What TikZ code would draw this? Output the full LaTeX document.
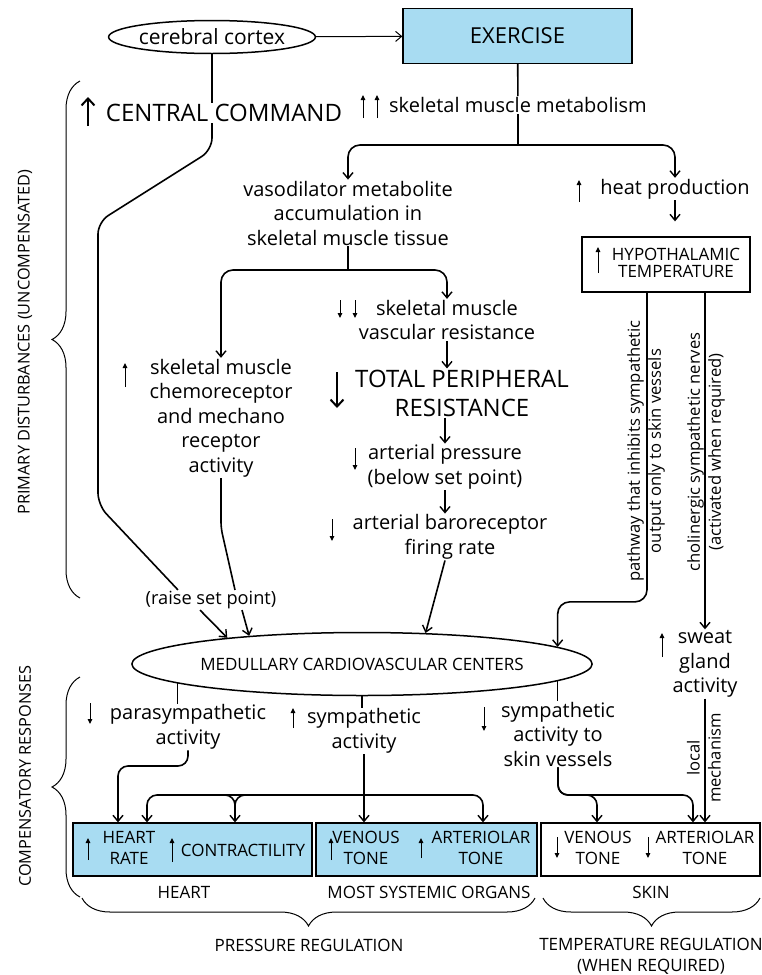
\documentclass[tikz,border=0pt]{standalone}
\usepackage{fontspec}
\setmainfont{Open Sans}
\usetikzlibrary{arrows.meta, positioning, shapes.geometric, decorations.pathreplacing, calc}
\definecolor{skyfill}{HTML}{A8DCF2}

\begin{document}
\begin{tikzpicture}[x=1pt, y=-1pt,
  txt/.style={align=center, font=\fontsize{20}{24.5}\selectfont, inner sep=1pt},
  bigtxt/.style={align=center, font=\fontsize{24}{29}\selectfont, inner sep=1pt},
  caps/.style={align=center, font=\fontsize{17}{21}\selectfont, inner sep=1pt},
  smalltxt/.style={align=center, font=\fontsize{16.6}{21}\selectfont, inner sep=1pt},
  side/.style={caps, font=\fontsize{16.3}{20}\selectfont, rotate=90},
  conn/.style={line width=1.6pt},
  arr/.style={conn, -{Straight Barb[length=6pt, width=10pt, line width=1.4pt]}},
  thinarr/.style={line width=1pt, -{Straight Barb[length=6pt, width=10pt]}},
  glyph/.style={line width=1pt, -{Triangle[length=5pt, width=4.5pt]}},
  bigglyph/.style={line width=2pt, -{Straight Barb[length=7pt, width=13pt, line width=2pt]}},
  cbox/.style={draw, line width=1.3pt, inner sep=0pt},
  bluebox/.style={cbox, fill=skyfill},
  oval/.style={draw, ellipse, line width=1.5pt, inner sep=0pt},
  brc/.style={decorate, line width=1pt, decoration={brace, amplitude=28pt}},
]
\useasboundingbox (0,0) rectangle (761,975);

% top row
\node[oval, minimum width=172, minimum height=33, font=\fontsize{21}{24}\selectfont] (cortex) at (212,37) {cerebral cortex};
\node[bluebox, minimum width=229, minimum height=55, font=\fontsize{22}{26}\selectfont] (exer) at (517.5,36) {EXERCISE};
\draw[thinarr] (cortex) -- (exer);

% primary disturbances
\node[bigtxt] (cmd) at (224,113) {CENTRAL COMMAND};
\node[txt] (metab) at (518,105) {skeletal muscle metabolism};
\node[txt] (vaso) at (348,213) {vasodilator metabolite\\accumulation in\\skeletal muscle tissue};
\node[txt] (heat) at (675,189) {heat production};
\node[cbox, minimum width=168, minimum height=55, caps] (hypo) at (666,264.5)
  {\hspace{20pt}\begin{tabular}{@{}c@{}}HYPOTHALAMIC\\[-4pt]TEMPERATURE\end{tabular}};
\node[txt] (chemo) at (221,418) {skeletal muscle\\chemoreceptor\\and mechano\\receptor\\activity};
\node[txt] (smvr) at (447,320) {skeletal muscle\\vascular resistance};
\node[bigtxt] (tpr) at (462,393) {TOTAL PERIPHERAL\\RESISTANCE};
\node[txt] (ap) at (445,467) {arterial pressure\\(below set point)};
\node[txt] (baro) at (450,537) {arterial baroreceptor\\firing rate};
\node[smalltxt, font=\fontsize{18.2}{21}\selectfont] (raise) at (211,600) {(raise set point)};
\node[smalltxt, rotate=90] (inhib) at (646,451) {pathway that inhibits sympathetic\\output only to skin vessels};
\node[smalltxt, rotate=90] (chol) at (706,452) {cholinergic sympathetic nerves\\(activated when required)};
\node[txt] (sweat) at (705,664) {sweat\\gland\\activity};

% medulla and its outputs
\node[oval, minimum width=458, minimum height=63, caps] (med) at (362,664) {MEDULLARY CARDIOVASCULAR CENTERS};
\node[txt] (para) at (188,727) {parasympathetic\\activity};
\node[txt] (sym) at (364,731) {sympathetic\\activity};
\node[txt] (skinv) at (558,734) {sympathetic\\activity to\\skin vessels};
\node[smalltxt, rotate=90] (local) at (704,758) {local\\mechanism};

% effector boxes
\node[bluebox, minimum width=239, minimum height=53] (heartbox) at (192.5,849.5) {};
\node[bluebox, minimum width=221, minimum height=53] (orgbox) at (426.5,849.5) {};
\node[cbox, minimum width=219, minimum height=53] (skinbox) at (650.5,849.5) {};
\node[caps] (hrate) at (129,848) {HEART\\RATE};
\node[caps] (contr) at (243,850) {CONTRACTILITY};
\node[caps] (vtone) at (366,848) {VENOUS\\TONE};
\node[caps] (atone) at (481,848) {ARTERIOLAR\\TONE};
\node[caps] (svtone) at (598,848) {VENOUS\\TONE};
\node[caps] (satone) at (705,848) {ARTERIOLAR\\TONE};

% labels
\node[caps] (lheart) at (184,892) {HEART};
\node[caps] (lorgans) at (429,892) {MOST SYSTEMIC ORGANS};
\node[caps] (lskin) at (651,892) {SKIN};
\node[caps] (lpress) at (309,945) {PRESSURE REGULATION};
\node[caps] (ltemp) at (651,956) {TEMPERATURE REGULATION\\(WHEN REQUIRED)};
\node[side] (lprim) at (25,342) {PRIMARY DISTURBANCES (UNCOMPENSATED)};
\node[side] (lcomp) at (25,776) {COMPENSATORY RESPONSES};

% braces
\draw[brc] (80,598) -- (80,81);
\draw[brc] (80,897) -- (80,677);
\draw[brc, decoration={mirror}] (82,898) -- (535,898);
\draw[brc, decoration={mirror}] (543,898) -- (760,898);

% up / down marks
\draw[bigglyph] (88,126) -- (88,97);
\draw[glyph] (363,118) -- (363,95);
\draw[glyph] (377,118) -- (377,95);
\draw[glyph] (579,202) -- (579,180);
\draw[glyph] (598,273) -- (598,247);
\draw[glyph] (125,387) -- (125,363);
\draw[glyph] (340,300) -- (340,318);
\draw[glyph] (355,300) -- (355,318);
\draw[bigglyph] (337,372) -- (337,408);
\draw[glyph] (355,448) -- (355,470);
\draw[glyph] (332,519) -- (332,541);
\draw[glyph] (90,703) -- (90,724);
\draw[glyph] (293,728) -- (293,708);
\draw[glyph] (484,707) -- (484,731);
\draw[glyph] (662,657) -- (662,633);
\draw[glyph] (88,860) -- (88,838);
\draw[glyph] (172,862) -- (172,838);
\draw[glyph] (331,860) -- (331,838);
\draw[glyph] (421,858) -- (421,838);
\draw[glyph] (557,837) -- (557,858);
\draw[glyph] (648,837) -- (648,858);

% exercise branch
\coordinate (jm) at (518,145);
\draw[conn] (exer) -- (metab);
\draw[conn] (metab) -- (jm);
\draw[arr, rounded corners=12pt] (jm) -| (vaso);
\draw[arr, rounded corners=12pt] (jm) -| (heat);
\draw[arr] (heat) -- ([yshift=15pt]heat |- hypo.north);

% metabolite branch
\coordinate (jv) at (348,270);
\draw[conn] (vaso) -- (jv);
\draw[arr, rounded corners=12pt] (jv) -| (chemo);
\draw[arr, rounded corners=12pt] (jv) -| (smvr);
\draw[arr] (smvr) -- (smvr |- tpr.north);
\draw[arr] (ap |- tpr.south) -- (ap);
\draw[arr] (ap) -- (ap |- baro.north);
\draw[arr] ([xshift=-5pt]baro.south) -- (med.26);

% central command and receptors
\draw[conn] (cortex) -- (cortex |- cmd.north);
\draw[conn, rounded corners=12pt] (cortex |- cmd.south) -- (212,150) -- (98,222) -- (98,505) -- ([xshift=-33pt]raise.north);
\draw[arr] ([xshift=-11pt]raise.south) -- (med.169);
\draw[conn, rounded corners=6pt] (chemo) -- (221,528) -- ([xshift=24pt]raise.north);
\draw[arr] ([xshift=31pt]raise.south) -- (med.166);

% hypothalamus
\draw[arr, rounded corners=12pt] ([xshift=-19pt]hypo.south) |- ($(med.5)+(0,-45)$) -- (med.5);
\draw[arr] ([xshift=39pt]hypo.south) -- ([xshift=39pt]hypo.south |- sweat.north);
\draw[arr] (sweat) -- (sweat |- skinbox.north);

% medullary outputs
\draw[conn] (med.186) -- (med.186 |- para.north);
\draw[conn] (med.270) -- (med.270 |- sym.north);
\draw[conn] (med.355) -- (med.355 |- skinv.north);
\draw[arr, rounded corners=10pt] (para.south) |- (118,766) -- (118,0 |- heartbox.north);
\coordinate (js) at (sym |- 0,795);
\draw[arr] (sym) -- (sym |- orgbox.north);
\draw[arr, rounded corners=10pt] (js) -| (147,0 |- heartbox.north);
\draw[arr, rounded corners=10pt] (js) -| (235,0 |- heartbox.north);
\draw[conn, rounded corners=10pt] (160,795) -| (235,815);
\draw[arr, rounded corners=10pt] (js) -| (483,0 |- orgbox.north);
\draw[arr, rounded corners=10pt] (skinv.south) |- (597,795) -- (597,0 |- skinbox.north);
\draw[arr, rounded corners=10pt] (skinv.south) |- (693,795) -- (693,0 |- skinbox.north);
\end{tikzpicture}
\end{document}
